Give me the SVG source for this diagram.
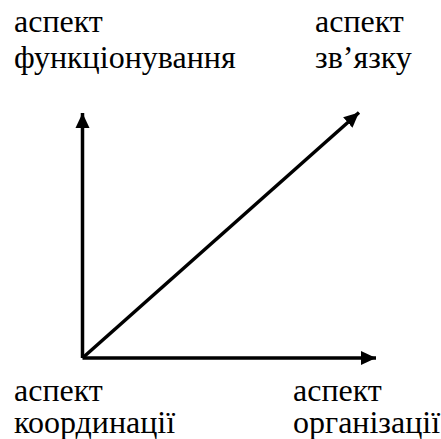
<svg xmlns="http://www.w3.org/2000/svg" width="441" height="439" viewBox="0 0 441 439">
<style>
text{font-family:"Liberation Serif","Times New Roman",serif;font-size:32px;fill:#000}
.ax{stroke:#000;stroke-width:3.5;fill:none}
</style>
<defs>
<marker id="ah" markerUnits="userSpaceOnUse" markerWidth="16" markerHeight="16" viewBox="0 0 16 16" refX="15" refY="8" orient="auto">
<path d="M0,1 L15,8 L0,15 Z" fill="#000"/>
</marker>
</defs>
<rect width="441" height="439" fill="#fff"/>
<g id="connectors">
<line class="ax" x1="82.5" y1="358" x2="82.5" y2="113" marker-end="url(#ah)"/>
<line class="ax" x1="82.5" y1="358" x2="376" y2="358" marker-end="url(#ah)"/>
<line class="ax" x1="82.5" y1="358" x2="359" y2="112.5" marker-end="url(#ah)"/>
</g>
<g id="functioning" font-family="Liberation Serif, serif"><text x="14" y="32">аспект</text><text x="14" y="68">функціонування</text></g>
<g id="link" font-family="Liberation Serif, serif"><text x="315" y="32">аспект</text><text x="315" y="68">зв’язку</text></g>
<g id="coordination" font-family="Liberation Serif, serif"><text x="14" y="401">аспект</text><text x="14" y="433">координації</text></g>
<g id="organization" font-family="Liberation Serif, serif"><text x="293" y="401">аспект</text><text x="293" y="433">організації</text></g>
</svg>
